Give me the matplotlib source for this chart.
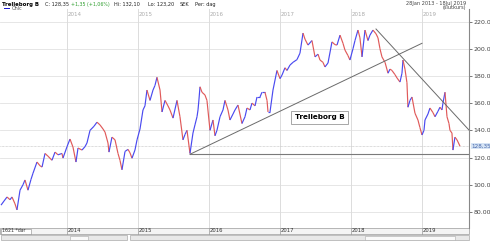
import matplotlib
matplotlib.use('Agg')
import matplotlib.pyplot as plt
from matplotlib.collections import LineCollection
from matplotlib.patches import Rectangle

# ---- data (decimal years, closing price SEK) ----
dates = [2013.075, 2013.117, 2013.160, 2013.202, 2013.230, 2013.272, 2013.300, 2013.343,
         2013.385, 2013.413, 2013.455, 2013.498, 2013.526, 2013.582, 2013.624, 2013.653,
         2013.695, 2013.737, 2013.793, 2013.836, 2013.878, 2013.934, 2013.948, 2014.005,
         2014.047, 2014.089, 2014.131, 2014.160, 2014.216, 2014.258, 2014.286, 2014.329,
         2014.385, 2014.427, 2014.469, 2014.512, 2014.540, 2014.582, 2014.596, 2014.638,
         2014.681, 2014.723, 2014.751, 2014.779, 2014.822, 2014.864, 2014.892, 2014.920,
         2014.962, 2014.991, 2015.033, 2015.075, 2015.103, 2015.131, 2015.174, 2015.216,
         2015.244, 2015.272, 2015.315, 2015.343, 2015.385, 2015.427, 2015.455, 2015.498,
         2015.554, 2015.596, 2015.638, 2015.667, 2015.695, 2015.737, 2015.779, 2015.807,
         2015.836, 2015.850, 2015.864, 2015.878, 2015.906, 2015.948, 2015.976, 2016.019,
         2016.061, 2016.089, 2016.117, 2016.160, 2016.202, 2016.230, 2016.272, 2016.300,
         2016.343, 2016.371, 2016.413, 2016.469, 2016.512, 2016.540, 2016.582, 2016.610,
         2016.653, 2016.681, 2016.723, 2016.751, 2016.793, 2016.822, 2016.836, 2016.864,
         2016.906, 2016.962, 2017.005, 2017.033, 2017.075, 2017.103, 2017.146, 2017.188,
         2017.244, 2017.286, 2017.329, 2017.357, 2017.399, 2017.455, 2017.498, 2017.540,
         2017.568, 2017.610, 2017.638, 2017.681, 2017.737, 2017.779, 2017.808, 2017.850,
         2017.892, 2017.920, 2017.962, 2017.990, 2018.033, 2018.061, 2018.103, 2018.131,
         2018.160, 2018.202, 2018.244, 2018.272, 2018.314, 2018.357, 2018.385, 2018.413,
         2018.441, 2018.484, 2018.526, 2018.554, 2018.582, 2018.624, 2018.653, 2018.695,
         2018.723, 2018.737, 2018.765, 2018.793, 2018.807, 2018.836, 2018.864, 2018.906,
         2018.948, 2018.976, 2019.005, 2019.033, 2019.047, 2019.089, 2019.117, 2019.160,
         2019.188, 2019.230, 2019.258, 2019.286, 2019.300, 2019.329, 2019.357, 2019.385,
         2019.399, 2019.427, 2019.441, 2019.469, 2019.498, 2019.512, 2019.540]
close = [85.0, 88.0, 91.0, 89.0, 91.0, 86.0, 81.5, 96.0,
         100.0, 103.5, 96.0, 104.0, 108.5, 116.7, 114.0, 113.0,
         123.0, 121.0, 118.0, 124.0, 122.0, 123.0, 119.6, 128.0,
         133.6, 127.7, 116.7, 127.0, 125.5, 128.0, 130.7, 140.0,
         143.0, 146.0, 144.0, 141.0, 138.7, 130.7, 124.0, 135.0,
         133.0, 123.0, 118.0, 111.0, 124.5, 126.0, 123.5, 119.5,
         125.5, 133.0, 141.0, 155.0, 158.0, 169.6, 162.0, 169.6,
         173.0, 179.0, 169.6, 153.5, 162.0, 158.0, 155.0, 149.0,
         162.0, 150.0, 133.0, 137.0, 140.0, 123.0, 138.0, 144.0,
         150.0, 155.0, 163.0, 172.0, 168.0, 166.0, 162.0, 140.0,
         147.6, 136.0, 140.0, 150.0, 155.0, 162.0, 155.0, 147.6,
         152.0, 155.0, 158.6, 145.0, 150.0, 156.4, 155.0, 160.0,
         158.0, 164.5, 164.5, 168.0, 168.0, 162.0, 153.5, 153.5,
         169.6, 184.0, 178.0, 180.6, 186.0, 184.0, 188.0, 190.0,
         192.0, 196.7, 211.5, 207.0, 202.7, 206.0, 194.0, 196.0,
         191.7, 190.0, 186.6, 189.5, 205.0, 203.0, 202.7, 210.0,
         204.0, 199.0, 195.0, 191.7, 200.0, 206.0, 213.7, 208.0,
         194.0, 213.7, 206.0, 210.0, 213.7, 211.0, 208.0, 200.0,
         194.0, 190.0, 182.0, 185.0, 184.0, 181.0, 178.5, 175.5,
         182.0, 191.7, 185.0, 175.0, 157.0, 162.0, 164.5, 152.6,
         147.6, 142.0, 136.6, 140.0, 147.6, 152.0, 156.4, 153.0,
         150.0, 154.0, 157.0, 155.0, 160.0, 168.0, 150.0, 145.0,
         140.0, 138.0, 125.5, 135.0, 133.0, 131.5, 128.35]

years = [2014, 2015, 2016, 2017, 2018, 2019]
yticks = [80, 100, 120, 140, 160, 180, 200, 220]
ytick_labels = ['80.00', '100.0', '120.0', '140.0', '160.0', '180.0', '200.0', '220.0']
last_price = 128.35
last_label = '128,35'
support_start = (2015.737, 122.4)
rise_start, rise_end = (2015.737, 122.4), (2019.005, 204.0)
fall_start, fall_end = (2018.357, 214.5), (2019.667, 140.2)
x_range = (2013.061, 2019.667)
y_range = (68.2, 229.2)

W, H = 490, 242
fig = plt.figure(figsize=(W / 100, H / 100), dpi=100)
fig.patch.set_facecolor('white')

def fx(px):
    return px / W

def fy(py):
    return 1 - py / H

def rect(x0, y_top, w, h, **kw):
    fig.patches.append(Rectangle((fx(x0), fy(y_top + h)), fx(w), h / H,
                                 transform=fig.transFigure, zorder=-1, **kw))

ax = fig.add_axes([0.0, fy(228), fx(469), (228 - 9) / H])
ax.set_xlim(*x_range)
ax.set_ylim(*y_range)
ax.set_facecolor('white')

# grid
for yv in yticks:
    ax.axhline(yv, color='#e2e2e2', lw=0.6, zorder=0)
for yr in years:
    ax.axvline(yr, color='#dcdcdc', lw=0.7, zorder=0)
ax.axhline(last_price, color='#bbbbbb', lw=0.5, ls=(0, (1, 1)), zorder=1)

# price segments coloured by direction
segs = []
cols = []
for i in range(1, len(dates)):
    segs.append([(dates[i - 1], close[i - 1]), (dates[i], close[i])])
    cols.append('#4a4af0' if close[i] >= close[i - 1] else '#e05a5a')
lc = LineCollection(segs, colors=cols, linewidths=0.85, zorder=3)
ax.add_collection(lc)

# trend lines
ax.plot([support_start[0], x_range[1]], [support_start[1], support_start[1]],
        color='#7a7a7a', lw=0.8, zorder=4)
ax.plot([rise_start[0], rise_end[0]], [rise_start[1], rise_end[1]],
        color='#6a6a6a', lw=0.7, zorder=4)
ax.plot([fall_start[0], fall_end[0]], [fall_start[1], fall_end[1]],
        color='#6a6a6a', lw=0.7, zorder=4)

# annotation box
ax.text(2017.56, 149.5, 'Trelleborg B', fontsize=5.2, fontweight='bold',
        ha='center', va='center', zorder=6,
        bbox=dict(boxstyle='square,pad=0.5', fc='white', ec='#999999', lw=0.6))

# axes styling
for s in ['top', 'left', 'bottom']:
    ax.spines[s].set_visible(False)
ax.spines['right'].set_color('#888888')
ax.spines['right'].set_linewidth(0.8)
ax.yaxis.tick_right()
ax.set_yticks(yticks)
ax.set_yticklabels(ytick_labels)
ax.tick_params(axis='y', labelsize=4.5, colors='#444444', length=2, width=0.5, pad=1)
ax.set_xticks([])

# top year labels
for yr in years:
    ax.text(yr + 0.02, 0.975, str(yr), transform=ax.get_xaxis_transform(),
            fontsize=4.0, color='#aaaaaa', ha='left', va='center')

# last price marker on right axis
ax.text(1.005, last_price, last_label, transform=ax.get_yaxis_transform(),
        fontsize=4.1, color='#4466aa', ha='left', va='center', clip_on=False,
        bbox=dict(boxstyle='square,pad=0.12', fc='#d6e4f5', ec='none'))

# header
fig.text(fx(2), fy(4.5), 'Trelleborg B', fontsize=3.9, fontweight='bold', va='center', ha='left')
fig.text(fx(45), fy(4.5), 'C: 128,35', fontsize=3.6, va='center', ha='left', color='#222222')
fig.text(fx(71), fy(4.5), '+1,35 (+1,06%)', fontsize=3.4, va='center', ha='left', color='#2e9e2e')
fig.text(fx(114), fy(4.5), 'Hi: 132,10', fontsize=3.6, va='center', ha='left', color='#222222')
fig.text(fx(148), fy(4.5), 'Lo: 123,20', fontsize=3.6, va='center', ha='left', color='#222222')
fig.text(fx(180), fy(4.5), 'SEK', fontsize=3.6, va='center', ha='left', color='#222222')
fig.text(fx(195), fy(4.5), 'Per: dag', fontsize=3.6, va='center', ha='left', color='#222222')
rect(4, 7.8, 6, 2.4, fc='#1a1ad0', ec='none')
fig.text(fx(12), fy(9), 'Ohlc', fontsize=3.4, va='center', ha='left', color='#555555')
fig.text(fx(466), fy(3.2), '28Jan 2013 - 18Jul 2019', fontsize=3.6, va='center', ha='right', color='#444444')
fig.text(fx(466), fy(7.2), '(slutkurs)', fontsize=3.6, va='center', ha='right', color='#444444')

# bottom strip: year labels and scrollbar
rect(0, 228, 469, 6, fc='#f4f4f4', ec='#999999', lw=0.5)
rect(1, 228.5, 30, 5, fc='white', ec='#888888', lw=0.4)
for yr in years:
    ax.text(yr + 0.015, -0.013, str(yr), transform=ax.get_xaxis_transform(),
            fontsize=3.8, color='#333333', ha='left', va='center', clip_on=False)
    ax.plot([yr, yr], [-0.027, 0], transform=ax.get_xaxis_transform(), color='#999999',
            lw=0.5, clip_on=False)
fig.text(fx(2), fy(231), '1621 *dar', fontsize=3.3, va='center', ha='left', color='#333333')
rect(1, 235, 126, 5, fc='#e8e8e8', ec='#999999', lw=0.4)
rect(70, 235.5, 18, 4, fc='#fafafa', ec='#aaaaaa', lw=0.4)
rect(130, 235, 339, 5, fc='#e8e8e8', ec='#999999', lw=0.4)
rect(365, 235.5, 90, 4, fc='#fafafa', ec='#aaaaaa', lw=0.4)

fig.savefig('out.png', dpi=100, facecolor='white')
